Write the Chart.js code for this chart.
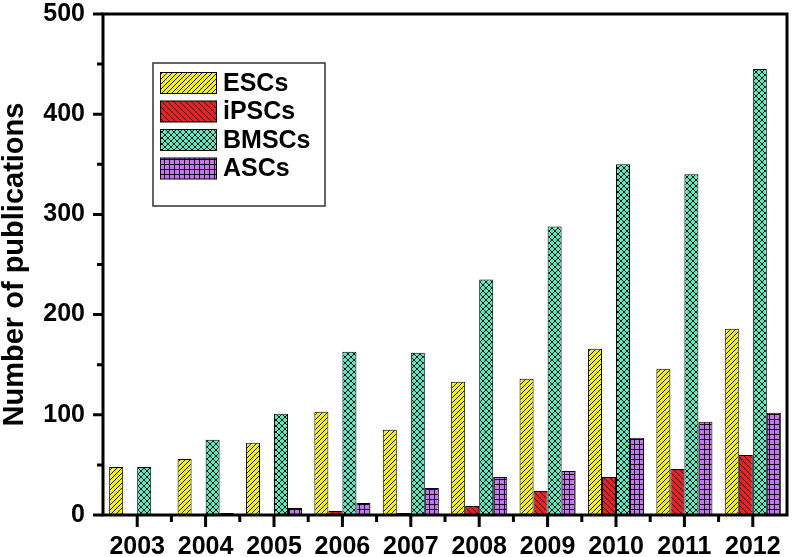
<!DOCTYPE html>
<html>
<head>
<meta charset="utf-8">
<script src="https://cdn.jsdelivr.net/npm/chart.js@4.4.0/dist/chart.umd.min.js"></script>
<style>
  html, body { margin: 0; padding: 0; background: #fff; }
</style>
</head>
<body>
<canvas id="myChart" width="792" height="557"></canvas>
<script>
// 연도별 논문 수
const years = ['2003', '2004', '2005', '2006', '2007', '2008', '2009', '2010', '2011', '2012'];
const escs  = [48, 56, 72, 103, 85, 133, 136, 166, 146, 186];
const ipscs = [0, 0, 0, 4, 2, 9, 24, 38, 46, 60];
const bmscs = [48, 75, 101, 163, 162, 235, 288, 350, 340, 445];
const ascs  = [0, 2, 7, 12, 27, 38, 44, 77, 93, 102];
const yTicks = [0, 100, 200, 300, 400, 500];

const FONT = '"Liberation Sans", Arial, sans-serif';

// 해칭 패턴 만들기
function makePattern(bg, kind, s) {
    const c = document.createElement('canvas');
    c.width = s; c.height = s;
    const g = c.getContext('2d');
    g.fillStyle = bg;
    g.fillRect(0, 0, s, s);
    g.strokeStyle = 'rgba(0,0,0,0.9)';
    g.lineWidth = 1;
    g.beginPath();
    if (kind === 'fwd' || kind === 'cross') {
        g.moveTo(-1, s + 1); g.lineTo(s + 1, -1);
        g.moveTo(-1, 1); g.lineTo(1, -1);
        g.moveTo(s - 1, s + 1); g.lineTo(s + 1, s - 1);
    }
    if (kind === 'back' || kind === 'cross') {
        g.moveTo(-1, -1); g.lineTo(s + 1, s + 1);
        g.moveTo(-1, s - 1); g.lineTo(1, s + 1);
        g.moveTo(s - 1, -1); g.lineTo(s + 1, 1);
    }
    if (kind === 'grid') {
        g.moveTo(0, s - 0.5); g.lineTo(s, s - 0.5);
        g.moveTo(s - 0.5, 0); g.lineTo(s - 0.5, s);
    }
    g.stroke();
    return g.createPattern(c, 'repeat');
}

const ctx = document.getElementById('myChart').getContext('2d');

// 플롯 테두리와 눈금
const framePlugin = {
    id: 'frame',
    afterDatasetsDraw(chart) {
        const { ctx, chartArea: a, scales: { x, y } } = chart;
        ctx.save();
        ctx.strokeStyle = '#000';
        ctx.lineWidth = 3;
        ctx.strokeRect(a.left, a.top, a.right - a.left, a.bottom - a.top);
        ctx.beginPath();
        for (let v = 0; v <= 500; v += 50) {
            const py = y.getPixelForValue(v);
            const len = v % 100 === 0 ? 10 : 6;
            ctx.moveTo(a.left, py);
            ctx.lineTo(a.left - len, py);
        }
        years.forEach((_, i) => {
            const px = x.getPixelForValue(i);
            ctx.moveTo(px, a.bottom);
            ctx.lineTo(px, a.bottom + 12);
            if (i > 0) {
                const mx = (px + x.getPixelForValue(i - 1)) / 2;
                ctx.moveTo(mx, a.bottom);
                ctx.lineTo(mx, a.bottom + 7);
            }
        });
        ctx.stroke();
        ctx.restore();
    }
};

// 플롯 안쪽 범례
const legendPlugin = {
    id: 'insideLegend',
    afterDraw(chart) {
        const ctx = chart.ctx;
        const bx = 153, by = 63, bw = 172, bh = 143;
        ctx.save();
        ctx.fillStyle = '#fff';
        ctx.fillRect(bx, by, bw, bh);
        ctx.strokeStyle = '#333';
        ctx.lineWidth = 1.5;
        ctx.strokeRect(bx, by, bw, bh);
        chart.data.datasets.forEach((ds, i) => {
            const cy = 83 + i * 28.5;
            ctx.fillStyle = ds.backgroundColor;
            ctx.fillRect(160, cy - 10.5, 57, 21);
            ctx.strokeStyle = '#000';
            ctx.lineWidth = 1;
            ctx.strokeRect(160.5, cy - 10.5, 56, 21);
            ctx.fillStyle = '#000';
            ctx.font = 'bold 25px ' + FONT;
            ctx.textBaseline = 'middle';
            ctx.textAlign = 'left';
            ctx.fillText(ds.label, 223, cy + 1);
        });
        ctx.restore();
    }
};

const barStyle = { borderColor: '#000', borderWidth: 1, borderSkipped: 'start', barPercentage: 1.0, categoryPercentage: 0.82 };

const myChart = new Chart(ctx, {
    type: 'bar',
    data: {
        labels: years,
        datasets: [
            { label: 'ESCs',  data: escs,  backgroundColor: makePattern('#f2ee22', 'fwd', 5), ...barStyle },
            { label: 'iPSCs', data: ipscs, backgroundColor: makePattern('#e82222', 'back', 6), ...barStyle },
            { label: 'BMSCs', data: bmscs, backgroundColor: makePattern('#5ee8c2', 'cross', 6), ...barStyle },
            { label: 'ASCs',  data: ascs,  backgroundColor: makePattern('#c774f0', 'grid', 5), ...barStyle }
        ]
    },
    options: {
        responsive: false,
        animation: false,
        layout: { padding: { top: 14, right: 5, left: 0, bottom: 0 } },
        plugins: {
            legend: { display: false },
            tooltip: { enabled: false }
        },
        scales: {
            x: {
                grid: { display: false, drawTicks: false },
                border: { display: false },
                ticks: { color: '#000', font: { family: FONT, size: 25, weight: 'bold' }, padding: 17, maxRotation: 0 },
                afterFit(scale) {
                    scale.height = 42;
                    scale.paddingLeft = 0;
                    scale.paddingRight = 0;
                }
            },
            y: {
                min: 0,
                max: 500,
                afterBuildTicks(scale) { scale.ticks = yTicks.map(v => ({ value: v })); },
                grid: { display: false, drawTicks: false },
                border: { display: false },
                ticks: { color: '#000', font: { family: FONT, size: 25, weight: 'bold' }, padding: 18 },
                title: {
                    display: true,
                    text: 'Number of publications',
                    color: '#000',
                    font: { family: FONT, size: 29, weight: 'bold', lineHeight: 1 },
                    padding: { top: 0, bottom: 0 }
                },
                afterFit(scale) {
                    scale.width = 103;
                    scale.paddingTop = 0;
                    scale.paddingBottom = 0;
                }
            }
        }
    },
    plugins: [framePlugin, legendPlugin]
});
</script>
</body>
</html>
